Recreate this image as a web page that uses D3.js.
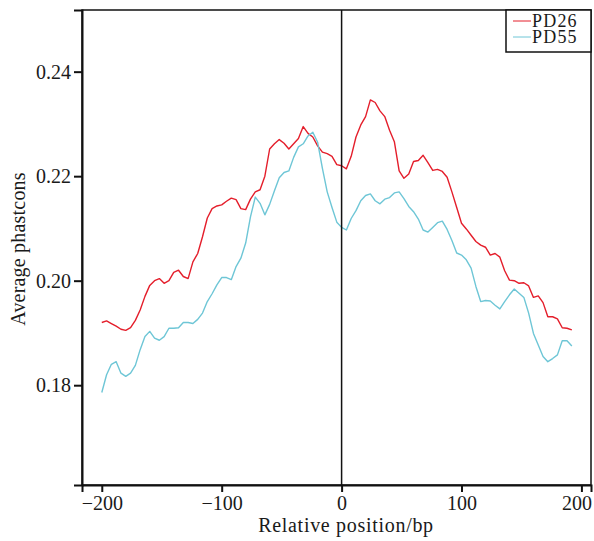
<!DOCTYPE html>
<html>
<head>
<meta charset="utf-8">
<script src="https://cdn.jsdelivr.net/npm/d3@7"></script>
<style>
  html, body { margin: 0; padding: 0; background: #fff; }
  svg { display: block; }
  text { font-family: "Liberation Serif", "Times New Roman", serif; fill: #1a1a1a; }
</style>
</head>
<body>
<svg id="chart" width="594" height="541"></svg>
<script>
// ---- data ----
const positions = d3.range(-200, 193, 4); // -200 .. 192, step 4 bp
const pd26 = [
  0.1920, 0.1923, 0.1918, 0.1913, 0.1907, 0.1905, 0.1910, 0.1924, 0.1944, 0.1970,
  0.1991, 0.2000, 0.2004, 0.1995, 0.2000, 0.2016, 0.2020, 0.2008, 0.2004, 0.2036,
  0.2052, 0.2084, 0.2120, 0.2138, 0.2143, 0.2145, 0.2152, 0.2158, 0.2155, 0.2138,
  0.2136, 0.2156, 0.2170, 0.2174, 0.2200, 0.2252, 0.2262, 0.2270, 0.2263, 0.2252,
  0.2262, 0.2272, 0.2295, 0.2282, 0.2275, 0.2258, 0.2246, 0.2243, 0.2238, 0.2222,
  0.2220, 0.2214, 0.2238, 0.2275, 0.2298, 0.2314, 0.2346, 0.2341, 0.2325, 0.2314,
  0.2288, 0.2266, 0.2210, 0.2196, 0.2204, 0.2228, 0.2230, 0.2240, 0.2226, 0.2211,
  0.2213, 0.2209, 0.2198, 0.2170, 0.2140, 0.2110, 0.2099, 0.2087, 0.2075, 0.2068,
  0.2064, 0.2049, 0.2052, 0.2045, 0.2019, 0.2001, 0.2000, 0.1995, 0.1996, 0.1990,
  0.1968, 0.1971, 0.1958, 0.1931, 0.1931, 0.1927, 0.1910, 0.1909, 0.1906
];
const pd55 = [
  0.1786, 0.1820, 0.1840, 0.1845, 0.1823, 0.1817, 0.1823, 0.1838, 0.1868, 0.1893,
  0.1903, 0.1890, 0.1886, 0.1893, 0.1909, 0.1909, 0.1910, 0.1920, 0.1920, 0.1918,
  0.1926, 0.1938, 0.1960, 0.1975, 0.1992, 0.2006, 0.2006, 0.2002, 0.2027, 0.2043,
  0.2072, 0.2122, 0.2160, 0.2148, 0.2126, 0.2146, 0.2172, 0.2197, 0.2207, 0.2210,
  0.2236, 0.2256, 0.2262, 0.2277, 0.2284, 0.2265, 0.2215, 0.2170, 0.2140, 0.2112,
  0.2102, 0.2097, 0.2119, 0.2134, 0.2153, 0.2163, 0.2166, 0.2153, 0.2147, 0.2156,
  0.2159, 0.2168, 0.2170, 0.2157, 0.2142, 0.2132, 0.2118, 0.2097, 0.2093, 0.2102,
  0.2111, 0.2114, 0.2098, 0.2077, 0.2053, 0.2049, 0.2040, 0.2024, 0.1989, 0.1960,
  0.1962, 0.1961, 0.1953, 0.1946, 0.1960, 0.1973, 0.1984, 0.1976, 0.1968, 0.1938,
  0.1899, 0.1877, 0.1855, 0.1845, 0.1851, 0.1858, 0.1885, 0.1885, 0.1875
];
const seriesNames = ["PD26", "PD55"];
const seriesColors = ["#e41e2b", "#6ec6d6"];
const xTicks = [-200, -100, 0, 100, 200];
const yTicks = [0.18, 0.20, 0.22, 0.24];
const xDomain = [-216.5, 208];
const yDomain = [0.1609, 0.2518];
const xTitle = "Relative position/bp";
const yTitle = "Average phastcons";

// ---- layout ----
const svg = d3.select("#chart");
const L = 82, T = 10, R = 591, B = 485;

const x = d3.scaleLinear().domain(xDomain).range([L, R]);
const y = d3.scaleLinear().domain(yDomain).range([B, T]);

// lines
const series = [pd26, pd55];
const line = d3.line().x(d => x(d[0])).y(d => y(d[1]));
series.forEach((vals, i) => {
  const pts = positions.map((p, j) => [p, vals[j]]);
  svg.append("path")
    .datum(pts)
    .attr("d", line)
    .attr("fill", "none")
    .attr("stroke", seriesColors[i])
    .attr("stroke-width", 1.4)
    .attr("stroke-linejoin", "round");
});

// vertical zero line
svg.append("line")
  .attr("x1", x(0)).attr("x2", x(0))
  .attr("y1", T).attr("y2", B)
  .attr("stroke", "#111").attr("stroke-width", 1.5);

// frame
svg.append("rect")
  .attr("x", L).attr("y", T).attr("width", R - L).attr("height", B - T)
  .attr("fill", "none").attr("stroke", "#111").attr("stroke-width", 1.5);

// axes
const xAxis = d3.axisBottom(x).tickValues(xTicks).tickSize(7).tickPadding(4)
  .tickFormat(d => d < 0 ? "\u2212" + Math.abs(d) : d);
const gx = svg.append("g").attr("transform", `translate(0,${B})`).call(xAxis);
gx.attr("font-family", null).attr("font-size", null);
gx.select(".domain").attr("stroke", "#111").attr("stroke-width", 2);
gx.selectAll(".tick line").attr("stroke", "#111").attr("stroke-width", 2);
gx.selectAll(".tick text")
  .style("font-size", "20px")
  .style("font-family", "'Liberation Serif', serif")
  .attr("fill", "#1a1a1a")
  .attr("dx", d => d === 200 ? -5 : 0);

const yAxis = d3.axisLeft(y).tickValues(yTicks).tickSize(8).tickPadding(3)
  .tickFormat(d3.format(".2f"));
const gy = svg.append("g").attr("transform", `translate(${L},0)`).call(yAxis);
gy.attr("font-family", null).attr("font-size", null);
gy.select(".domain").attr("stroke", "#111").attr("stroke-width", 2);
gy.selectAll(".tick line").attr("stroke", "#111").attr("stroke-width", 2);
gy.selectAll(".tick text")
  .style("font-size", "20px")
  .style("font-family", "'Liberation Serif', serif")
  .attr("fill", "#1a1a1a");

// titles
svg.append("text")
  .attr("x", 346).attr("y", 532)
  .attr("text-anchor", "middle")
  .style("font-size", "20px")
  .style("letter-spacing", "0.7px")
  .text(xTitle);

svg.append("text")
  .attr("transform", `translate(25,${249}) rotate(-90)`)
  .attr("text-anchor", "middle")
  .style("font-size", "20px")
  .style("letter-spacing", "0.2px")
  .text(yTitle);

// legend
const lg = svg.append("g");
lg.append("rect")
  .attr("x", 506).attr("y", T).attr("width", R - 506).attr("height", 42)
  .attr("fill", "#fff").attr("stroke", "#111").attr("stroke-width", 1.5);
seriesNames.forEach((name, i) => {
  const yy = 21 + i * 16;
  lg.append("line")
    .attr("x1", 513).attr("x2", 531).attr("y1", yy).attr("y2", yy)
    .attr("stroke", seriesColors[i]).attr("stroke-width", 1);
  lg.append("text")
    .attr("x", 532).attr("y", yy + 6)
    .style("font-size", "18px")
    .style("letter-spacing", "1.2px")
    .text(name);
});
</script>
</body>
</html>
